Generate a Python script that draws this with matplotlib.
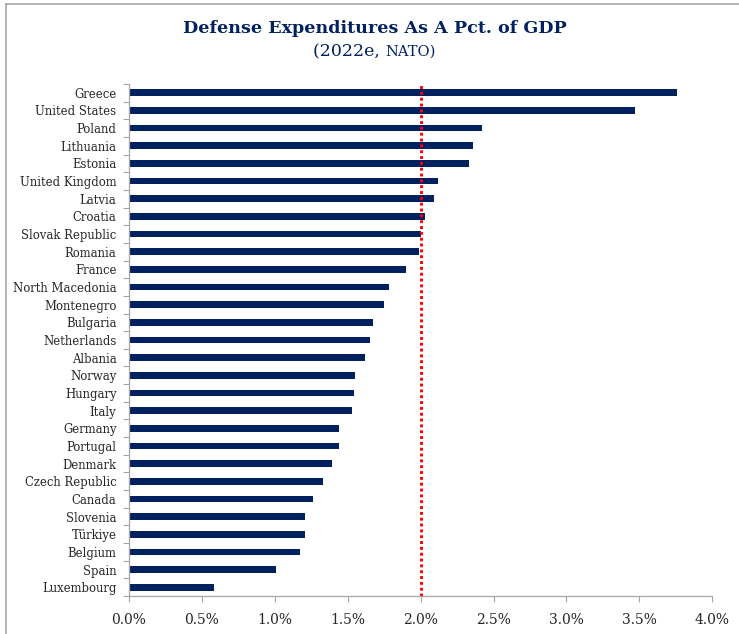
import matplotlib
matplotlib.use("Agg")
import matplotlib.pyplot as plt
from matplotlib.lines import Line2D
from matplotlib.ticker import FuncFormatter, FixedLocator

countries = [
    "Greece", "United States", "Poland", "Lithuania", "Estonia",
    "United Kingdom", "Latvia", "Croatia", "Slovak Republic", "Romania",
    "France", "North Macedonia", "Montenegro", "Bulgaria", "Netherlands",
    "Albania", "Norway", "Hungary", "Italy", "Germany", "Portugal",
    "Denmark", "Czech Republic", "Canada", "Slovenia", "Türkiye",
    "Belgium", "Spain", "Luxembourg",
]
pct_gdp = [
    3.76, 3.47, 2.42, 2.36, 2.33,
    2.12, 2.09, 2.03, 2.00, 1.99,
    1.90, 1.78, 1.75, 1.67, 1.65,
    1.62, 1.55, 1.54, 1.53, 1.44, 1.44,
    1.39, 1.33, 1.26, 1.21, 1.21,
    1.17, 1.01, 0.58,
]
nato_target = 2.0
x_ticks = [0.0, 0.5, 1.0, 1.5, 2.0, 2.5, 3.0, 3.5, 4.0]

navy = "#002060"
grey = "#A6A6A6"
font = "DejaVu Serif"

fig = plt.figure(figsize=(7.39, 6.34), dpi=100)
ax = fig.add_axes([0.1746, 0.0599, 0.9639 - 0.1746, 0.8675 - 0.0599])

n = len(countries)
ypos = list(range(n))
ax.barh(ypos, pct_gdp, height=0.38, color=navy, edgecolor="none", zorder=2)
ax.axvline(nato_target, color="#FF0000", linestyle=(0, (1, 1)), linewidth=2.1, zorder=3)

ax.set_xlim(0, 4.0)
ax.set_ylim(n - 0.5, -0.5)

ax.xaxis.set_major_locator(FixedLocator(x_ticks))
ax.xaxis.set_major_formatter(FuncFormatter(lambda v, p: f"{v:.1f}%"))
ax.set_yticks(ypos)
ax.set_yticklabels(countries)
ax.set_yticks([i - 0.5 for i in range(n + 1)], minor=True)

for lab in ax.get_xticklabels():
    lab.set_fontfamily(font)
    lab.set_fontsize(10)
for lab in ax.get_yticklabels():
    lab.set_fontfamily(font)
    lab.set_fontsize(8.4)

ax.tick_params(axis="x", direction="out", length=4, width=0.8, color=grey,
               pad=8, labelcolor="#262626")
ax.tick_params(axis="y", which="major", length=0, pad=9, labelcolor="#262626")
ax.tick_params(axis="y", which="minor", direction="out", length=4, width=0.8, color=grey)

for side in ("top", "right"):
    ax.spines[side].set_visible(False)
for side in ("left", "bottom"):
    ax.spines[side].set_color(grey)
    ax.spines[side].set_linewidth(0.9)

center_x = 0.507
fig.text(center_x, 0.955, "Defense Expenditures As A Pct. of GDP", ha="center", va="center",
         fontsize=12.6, fontweight="bold", color=navy, fontfamily=font)

# subtitle: "NATO" set smaller, like small caps
sub_a = fig.text(0, 0.918, "(2022e, ", ha="left", va="center", fontsize=12.5,
                 color=navy, fontfamily=font)
sub_b = fig.text(0, 0.918, "NATO)", ha="left", va="center", fontsize=10.5,
                 color=navy, fontfamily=font)
renderer = fig.canvas.get_renderer()
wa = sub_a.get_window_extent(renderer).width / fig.bbox.width
wb = sub_b.get_window_extent(renderer).width / fig.bbox.width
start = center_x - (wa + wb) / 2
sub_a.set_x(start)
sub_b.set_x(start + wa)

# frame edges along the top and left of the figure
fig.add_artist(Line2D([6 / 739, 1.0], [1 - 4 / 634, 1 - 4 / 634], color=grey, linewidth=1.2))
fig.add_artist(Line2D([6 / 739, 6 / 739], [0.0, 1 - 4 / 634], color=grey, linewidth=1.2))

fig.savefig("out.png", dpi=100)
